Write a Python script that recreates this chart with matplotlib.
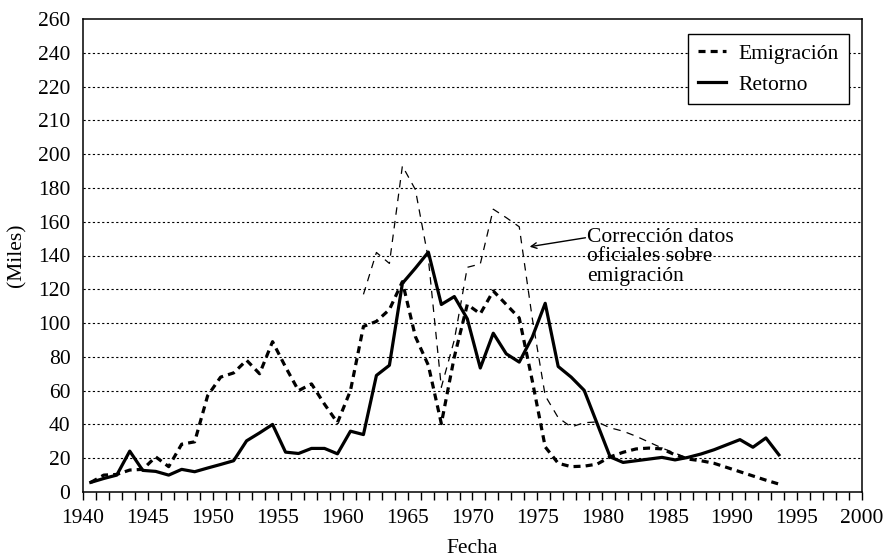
import numpy as np
import matplotlib
matplotlib.use("Agg")
import matplotlib.pyplot as plt

plt.rcParams['font.family'] = ['Liberation Serif', 'DejaVu Serif']

# datos (miles de personas)
years = list(range(1941, 1995))
emigracion = [5.7, 10, 10.4, 13, 13.4, 20.8, 15, 28.3, 29.7, 57,
              68, 70.5, 78, 70, 89, 74, 60, 64, 52, 41,
              60, 98, 101, 108, 124.5, 92, 75, 40.5, 80, 111,
              105.5, 119, 111, 103, 66, 26.7, 17, 15, 15.3, 16.5,
              20.8, 23.5, 25.5, 26, 25.5, 22, 19.5, 18.5, 17, 14.5,
              12, 9.5, 7, 4.7]
retorno = [5.7, 8, 10, 24.2, 12.8, 12.2, 10, 13.4, 12, 14.2,
           16.3, 18.5, 30.3, 35, 40, 23.6, 22.8, 25.8, 25.8, 22.6,
           36, 34, 69, 75, 123.5, 132.5, 142, 111, 115.7, 102.5,
           73.4, 94, 81.8, 76.9, 91.6, 111.7, 74.3, 68, 60.2, 40.5,
           20.8, 17.5, 18.5, 19.5, 20.5, 19, 20.5, 22.5, 25, 28,
           31, 26.5, 32, 22]
corr_years = list(range(1962, 1988))
correccion = [117, 141.8, 135.3, 193, 179, 138, 62, 90, 133, 135,
              167.4, 162.4, 157, 103, 57, 44, 38.5, 41, 41.5, 38,
              36, 33, 29.5, 26, 23, 20]

ytick_pos = list(range(0, 281, 20))
ytick_lab = ['0', '20', '40', '60', '80', '100', '120', '140', '160',
             '180', '200', '210', '220', '240', '260']

shift = 0.4  # los puntos caen un poco antes de la marca del año
fs = 15.5

fig = plt.figure(figsize=(8.86, 5.58), dpi=100)
ax = fig.add_axes([83/886, 1-492/558, 779/886, 473/558])

for y in ytick_pos[1:-1]:
    ax.axhline(y, color='black', lw=0.8, ls=(0, (2, 2.2)), zorder=1)

x_emi = np.array(years) - shift
x_cor = np.array(corr_years) - shift
ax.plot(x_cor, correccion, color='black', lw=0.9, ls=(0, (6, 5)), zorder=2)
ax.plot(x_emi, emigracion, color='black', lw=2.3, ls=(0, (2.2, 1.6)),
        label='Emigración', zorder=3)
ax.plot(x_emi, retorno, color='black', lw=2.3, ls='-', label='Retorno', zorder=4)

ax.set_xlim(1940, 2000)
ax.set_ylim(0, 280)
ax.set_xticks(range(1940, 2001, 5))
ax.set_xticks(range(1940, 2001), minor=True)
ax.tick_params(axis='x', which='both', direction='out', length=6, width=1,
               labelsize=fs, pad=6)
ax.set_yticks(ytick_pos)
ax.set_yticklabels(ytick_lab)
ax.tick_params(axis='y', length=0, labelsize=fs, pad=9)
for s in ax.spines.values():
    s.set_linewidth(1.1)

ax.set_xlabel('Fecha', fontsize=fs, labelpad=8)
ax.set_ylabel('(Miles)', fontsize=fs, labelpad=8)

ax.text(1978.8, 156.5, 'Corrección datos\noficiales sobre\nemigración',
        fontsize=fs, va='top', ha='left', linespacing=1.05)
ax.annotate('', xy=(1974.4, 145.2), xytext=(1978.7, 150.5),
            arrowprops=dict(arrowstyle='->', color='black', lw=1,
                            shrinkA=0, shrinkB=0))

leg = ax.legend(loc='upper right', bbox_to_anchor=(0.983, 0.968),
                borderaxespad=0, fontsize=fs, fancybox=False,
                edgecolor='black', framealpha=1, handlelength=1.3,
                handletextpad=0.6, labelspacing=0.5, borderpad=0.45)
leg.get_frame().set_linewidth(1)

fig.savefig('out.png', dpi=100)
